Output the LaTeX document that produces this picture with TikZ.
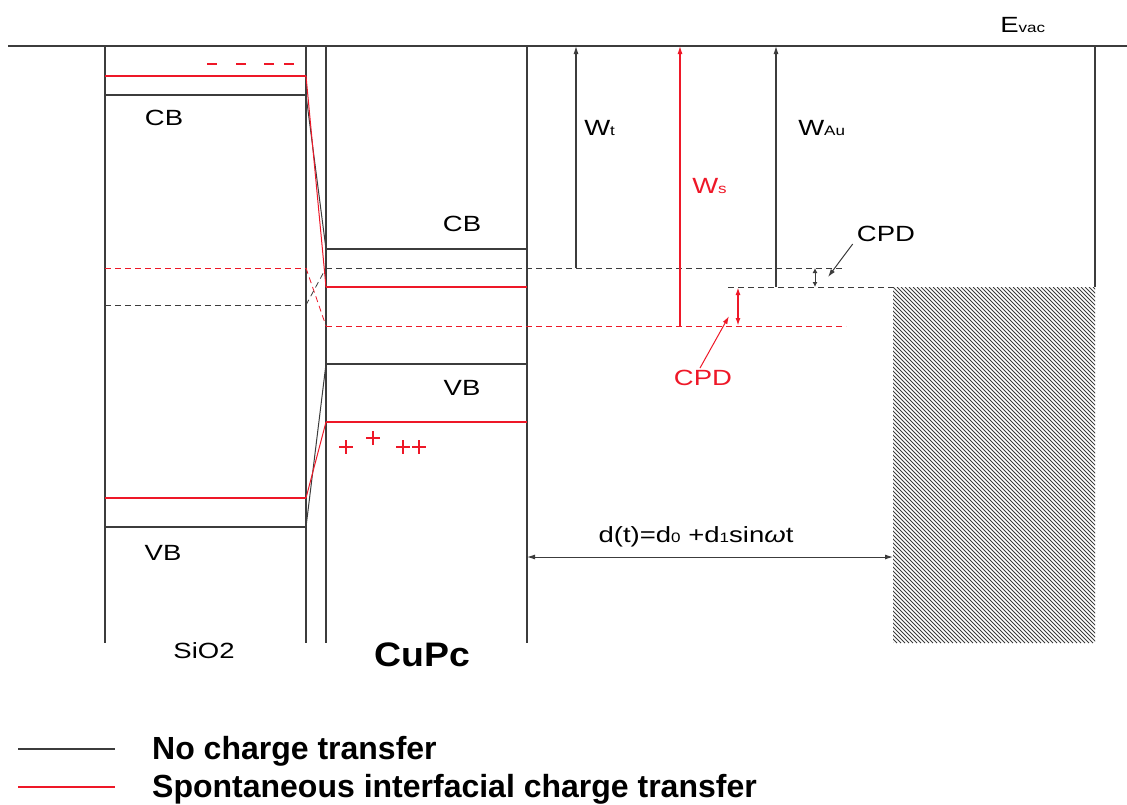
\documentclass[tikz,border=0pt]{standalone}
\usepackage{fontspec}
\setmainfont{Liberation Sans}
\usetikzlibrary{arrows.meta}
\definecolor{myred}{RGB}{238,24,40}
\definecolor{ink}{RGB}{60,60,60}
\newcommand\lo[1]{\scalebox{0.62}{#1}}
\begin{document}
\begin{tikzpicture}[x=1pt,y=-1pt,
  blk/.style={draw=ink,line width=1.3pt},
  rd/.style={draw=myred,line width=1.3pt},
  dsh/.style={dash pattern=on 6pt off 4pt},
  lbl/.style={font=\fontsize{22}{24}\selectfont,inner sep=0pt,xscale=1.25},
  rlbl/.style={lbl,text=myred},
  bigl/.style={font=\fontsize{34}{36}\selectfont\bfseries,inner sep=0pt,xscale=1.1},
  legl/.style={font=\fontsize{32}{34}\selectfont\bfseries,anchor=base west,inner sep=0pt},
  tip/.style={-{Latex[length=8pt,width=5pt]}},
  dtip/.style={{Latex[length=8pt,width=5pt]}-{Latex[length=8pt,width=5pt]}},
  stip/.style={{Latex[length=5pt,width=5pt]}-{Latex[length=5pt,width=5pt]}}]
\useasboundingbox (0,0) rectangle (1127,804);
% vacuum level and walls
\draw[blk] (8,46) -- (1127,46);
\draw[blk] (105,46) -- (105,643);
\draw[blk] (306,46) -- (306,643);
\draw[blk] (326,46) -- (326,643);
\draw[blk] (527,46) -- (527,643);
\draw[blk] (1095,46) -- (1095,287);
% hatched metal
\begin{scope}
\clip (893,287) rectangle (1095,643);
\foreach \a in {533,537,...,1099} \draw[ink,line width=0.9pt] (\a,287) -- (\a+356,643);
\end{scope}
% SiO2 levels
\draw[rd] (105,76) -- (306,76);
\foreach \xa in {207,236,264,284} \draw[rd,line width=2pt] (\xa,64) -- (\xa+10,64);
\draw[blk] (105,95) -- (306,95);
\draw[rd,dsh,line width=1pt] (105,268) -- (306,268);
\draw[blk,dsh,line width=1pt] (105,305) -- (306,305);
\draw[rd] (105,498) -- (306,498);
\draw[blk] (105,527) -- (306,527);
% interface
\draw[blk,line width=1pt] (306,95) -- (326,249);
\draw[rd,line width=1pt] (306,76) -- (326,287);
\draw[rd,dsh,line width=0.8pt] (306,268) -- (326,326);
\draw[blk,dsh,line width=0.8pt] (306,305) -- (326,268);
\draw[blk,line width=1pt] (306,527) -- (326,364);
\draw[rd,line width=1pt] (306,498) -- (326,422);
% CuPc levels
\draw[blk] (326,249) -- (527,249);
\draw[blk,dsh,line width=1pt] (326,268) -- (842,268);
\draw[rd] (326,287) -- (527,287);
\draw[rd,dsh,line width=1pt] (326,326) -- (846,326);
\draw[blk] (326,364) -- (527,364);
\draw[rd] (326,422) -- (527,422);
\draw[blk,dsh,line width=1pt] (728,287) -- (893,287);
% pluses
\foreach \px/\py in {346/447,373/438,403/447,419/447}
  \draw[myred,line width=2pt] (\px-7,\py) -- (\px+7,\py) (\px,\py-7) -- (\px,\py+7);
% work function arrows
\coordinate (wtb) at (576,268); \coordinate (wtt) at (576,46);
\coordinate (wsb) at (680,326); \coordinate (wst) at (680,46);
\coordinate (wab) at (776,287); \coordinate (wat) at (776,46);
\draw[blk,line width=1.1pt,tip] (wtb) -- (wtt);
\draw[rd,line width=1.1pt,tip] (wsb) -- (wst);
\draw[blk,line width=1.1pt,tip] (wab) -- (wat);
% CPD arrows
\coordinate (c1t) at (815,268); \coordinate (c1b) at (815,287);
\draw[blk,line width=1pt,stip] (c1t) -- (c1b);
\coordinate (c2t) at (738,287); \coordinate (c2b) at (738,326);
\draw[rd,line width=1.6pt,dtip] (c2t) -- (c2b);
% d(t) arrow
\coordinate (dl) at (527,557); \coordinate (dr) at (893,557);
\draw[blk,line width=1pt,dtip] (dl) -- (dr);
% labels
\node[lbl] (cb1) at (164,118) {CB};
\node[lbl] (vb1) at (163,553) {VB};
\node[lbl] (sio) at (204,651) {SiO2};
\node[lbl] (cb2) at (462,224) {CB};
\node[lbl] (vb2) at (462,388) {VB};
\node[bigl] (cupc) at (422,655) {CuPc};
\node[lbl,anchor=west] (evac) at (1000,25) {E\lo{vac}};
\node[lbl,anchor=west] (wt) at (584,128) {W\lo{t}};
\node[rlbl,anchor=west] (ws) at (692,186) {W\lo{s}};
\node[lbl,anchor=west] (wau) at (798,128) {W\lo{Au}};
\node[lbl] (cpd1) at (886,234) {CPD};
\node[rlbl] (cpd2) at (703,378) {CPD};
\node[lbl,xscale=1.0] (dt) at (696,537) {d(t)=d\lo{0} +d\lo{1}sin{\itshape ω}t};
\draw[ink,line width=1pt,tip] (cpd1.south west) ++(-4,2) -- (828,277);
\draw[myred,line width=1pt,tip] (cpd2.north) ++(-3,-2) -- (729,316);
% legend
\coordinate (l1a) at (18,749); \coordinate (l1b) at (115,749);
\coordinate (l2a) at (18,787); \coordinate (l2b) at (115,787);
\draw[ink,line width=1.3pt] (l1a) -- (l1b);
\draw[myred,line width=1.3pt] (l2a) -- (l2b);
\node[legl] (leg1) at (152,759) {No charge transfer};
\node[legl] (leg2) at (152,797) {Spontaneous interfacial charge transfer};
\end{tikzpicture}
\end{document}
